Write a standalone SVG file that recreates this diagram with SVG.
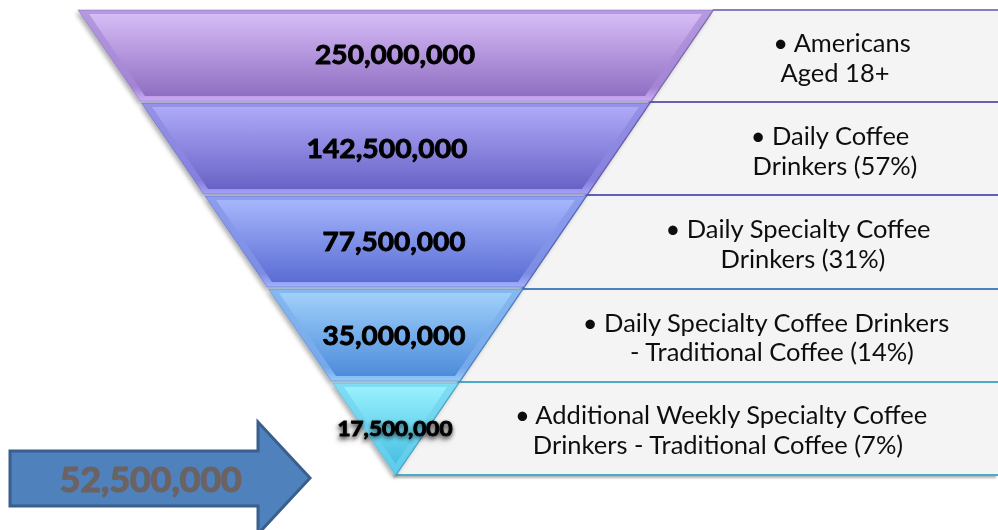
<svg xmlns="http://www.w3.org/2000/svg" width="998" height="530" viewBox="0 0 998 530">
  <defs>
    <linearGradient id="g1" x1="0" y1="0" x2="0" y2="1">
      <stop offset="0" stop-color="#d6bcf6"/>
      <stop offset="1" stop-color="#8f6ec2"/>
    </linearGradient>
    <linearGradient id="e1" x1="0" y1="0" x2="0" y2="1">
      <stop offset="0" stop-color="#b49ae0"/>
      <stop offset="0.85" stop-color="#a384d4"/>
      <stop offset="1" stop-color="#cdaef4"/>
    </linearGradient>
    <linearGradient id="g2" x1="0" y1="0" x2="0" y2="1">
      <stop offset="0" stop-color="#aeaaf8"/>
      <stop offset="1" stop-color="#6962c6"/>
    </linearGradient>
    <linearGradient id="e2" x1="0" y1="0" x2="0" y2="1">
      <stop offset="0" stop-color="#9692e6"/>
      <stop offset="0.85" stop-color="#8580dc"/>
      <stop offset="1" stop-color="#a6a2f6"/>
    </linearGradient>
    <linearGradient id="g3" x1="0" y1="0" x2="0" y2="1">
      <stop offset="0" stop-color="#a6b6fc"/>
      <stop offset="1" stop-color="#5a6cd4"/>
    </linearGradient>
    <linearGradient id="e3" x1="0" y1="0" x2="0" y2="1">
      <stop offset="0" stop-color="#8e9eee"/>
      <stop offset="0.85" stop-color="#7c8ce2"/>
      <stop offset="1" stop-color="#a2b2fb"/>
    </linearGradient>
    <linearGradient id="g4" x1="0" y1="0" x2="0" y2="1">
      <stop offset="0" stop-color="#a0d0fa"/>
      <stop offset="1" stop-color="#4c8cdb"/>
    </linearGradient>
    <linearGradient id="e4" x1="0" y1="0" x2="0" y2="1">
      <stop offset="0" stop-color="#86b8f0"/>
      <stop offset="0.85" stop-color="#74a8ea"/>
      <stop offset="1" stop-color="#96c8f8"/>
    </linearGradient>
    <linearGradient id="g5" x1="0" y1="0" x2="0" y2="1">
      <stop offset="0" stop-color="#98f0fd"/>
      <stop offset="1" stop-color="#48c0e2"/>
    </linearGradient>
    <linearGradient id="e5" x1="0" y1="0" x2="0" y2="1">
      <stop offset="0" stop-color="#80dcf4"/>
      <stop offset="1" stop-color="#5ccbea"/>
    </linearGradient>
    <filter id="soft" x="-10%" y="-10%" width="120%" height="130%">
      <feDropShadow dx="-2" dy="3" stdDeviation="2" flood-color="#000" flood-opacity="0.3"/>
    </filter>
    <filter id="panelShadow" x="-5%" y="-5%" width="110%" height="120%">
      <feDropShadow dx="-2" dy="2" stdDeviation="1.2" flood-color="#000" flood-opacity="0.3"/>
    </filter>
    <filter id="textGlow" x="-20%" y="-40%" width="140%" height="180%">
      <feGaussianBlur in="SourceAlpha" stdDeviation="2"/>
      <feOffset dx="0" dy="2" result="b"/>
      <feComponentTransfer><feFuncA type="linear" slope="0.6"/></feComponentTransfer>
      <feMerge><feMergeNode/><feMergeNode in="SourceGraphic"/></feMerge>
    </filter>
  </defs>
  <style>
    .panel { fill: #f4f4f4; }
    .num { font-family: Lato, "Open Sans", "Liberation Sans", sans-serif; font-weight: bold; fill: #000; stroke: #000; stroke-width: 0.9; text-anchor: middle; }
    .lbl { font-family: Lato, "Open Sans", "Liberation Sans", sans-serif; font-size: 25.5px; fill: #111; text-anchor: middle; }
    .edge { stroke-width: 0.8; stroke-opacity: 0.6; }
  </style>

  <rect width="998" height="530" fill="#ffffff"/>

  <!-- description panels behind the funnel -->
  <g id="panels" filter="url(#panelShadow)">
    <g id="panel-1">
      <polygon class="panel" points="713,10 998,10 998,102 650.2,102"/>
      <polyline points="713,10 650.2,102" fill="none" stroke="#7a6cb8" stroke-width="2"/>
      <line x1="713" y1="10" x2="998" y2="10" stroke="#8a7cc0" stroke-width="2"/>
      <text class="lbl" x="842" y="52">• Americans</text>
      <text class="lbl" x="835" y="82">Aged 18+</text>
    </g>
    <g id="panel-2">
      <polygon class="panel" points="650.2,102 998,102 998,195 586.7,195"/>
      <polyline points="650.2,102 586.7,195" fill="none" stroke="#6a62b4" stroke-width="2"/>
      <line x1="650.2" y1="102" x2="998" y2="102" stroke="#6a5fb0" stroke-width="2"/>
      <text class="lbl" x="830" y="145">• Daily Coffee</text>
      <text class="lbl" x="835" y="175">Drinkers (57%)</text>
    </g>
    <g id="panel-3">
      <polygon class="panel" points="586.7,195 998,195 998,289 522.5,289"/>
      <polyline points="586.7,195 522.5,289" fill="none" stroke="#5a6cc0" stroke-width="2"/>
      <line x1="586.7" y1="195" x2="998" y2="195" stroke="#5b63b8" stroke-width="2"/>
      <text class="lbl" x="798" y="238">• Daily Specialty Coffee</text>
      <text class="lbl" x="803" y="268">Drinkers (31%)</text>
    </g>
    <g id="panel-4">
      <polygon class="panel" points="522.5,289 998,289 998,382 459,382"/>
      <polyline points="522.5,289 459,382" fill="none" stroke="#4f86c2" stroke-width="2"/>
      <line x1="522.5" y1="289" x2="998" y2="289" stroke="#4f81bd" stroke-width="2"/>
      <text class="lbl" x="766" y="332">• Daily Specialty Coffee Drinkers</text>
      <text class="lbl" x="772" y="361">- Traditional Coffee (14%)</text>
    </g>
    <g id="panel-5">
      <polygon class="panel" points="459,382 998,382 998,475 395.5,475"/>
      <polyline points="459,382 395.5,475" fill="none" stroke="#4bacc6" stroke-width="2"/>
      <line x1="459" y1="382" x2="998" y2="382" stroke="#4bacc6" stroke-width="2"/>
      <line x1="395.5" y1="475" x2="998" y2="475" stroke="#4bacc6" stroke-width="2"/>
      <text class="lbl" x="721" y="424">• Additional Weekly Specialty Coffee</text>
      <text class="lbl" x="718" y="454">Drinkers - Traditional Coffee (7%)</text>
    </g>
  </g>

  <!-- funnel bands: bevel rim plus inner face -->
  <g id="funnel" filter="url(#soft)">
    <g id="band-1">
      <polygon points="78,10 713,10 650.9,101 140.1,101" fill="url(#e1)" stroke="#7c68b0" class="edge"/>
      <polygon points="89,14 702,14 645,96 145,96" fill="url(#g1)"/>
      <text class="num" x="395" y="64" font-size="27" textLength="160" lengthAdjust="spacingAndGlyphs">250,000,000</text>
    </g>
    <g id="band-2">
      <polygon points="141.5,103 649.5,103 587.4,194 203.6,194" fill="url(#e2)" stroke="#5a54b0" class="edge"/>
      <polygon points="152,107 639,107 582,189 208,189" fill="url(#g2)"/>
      <text class="num" x="387" y="158" font-size="27" textLength="161" lengthAdjust="spacingAndGlyphs">142,500,000</text>
    </g>
    <g id="band-3">
      <polygon points="205,196 586,196 523.9,287 267.1,287" fill="url(#e3)" stroke="#4c5cc0" class="edge"/>
      <polygon points="216,200 575,200 518,282 272,282" fill="url(#g3)"/>
      <text class="num" x="394" y="251" font-size="27" textLength="143" lengthAdjust="spacingAndGlyphs">77,500,000</text>
    </g>
    <g id="band-4">
      <polygon points="268.5,289 522.5,289 459.7,381 331.3,381" fill="url(#e4)" stroke="#3f7cc8" class="edge"/>
      <polygon points="279,293 512,293 455,376 336,376" fill="url(#g4)"/>
      <text class="num" x="394" y="345" font-size="27" textLength="143" lengthAdjust="spacingAndGlyphs">35,000,000</text>
    </g>
    <g id="band-5">
      <polygon points="332.7,383 458.3,383 395.5,475" fill="url(#e5)" stroke="#3aa6cc" class="edge"/>
      <polygon points="344,387 447,387 395.5,464" fill="url(#g5)"/>
      <text class="num" x="395" y="436" font-size="20" textLength="115" lengthAdjust="spacingAndGlyphs" filter="url(#textGlow)">17,500,000</text>
    </g>
  </g>

  <!-- total arrow -->
  <g id="total-arrow">
    <path d="M10,451 H258 V422 L310,478 L258,534 V506 H10 Z" fill="#4f81bd" stroke="#3a5f8c" stroke-width="3"/>
    <text class="num" x="151" y="492" font-size="34" style="fill:#6b6363;stroke:#6b6363;stroke-width:1.2" textLength="182" lengthAdjust="spacingAndGlyphs">52,500,000</text>
  </g>
</svg>
